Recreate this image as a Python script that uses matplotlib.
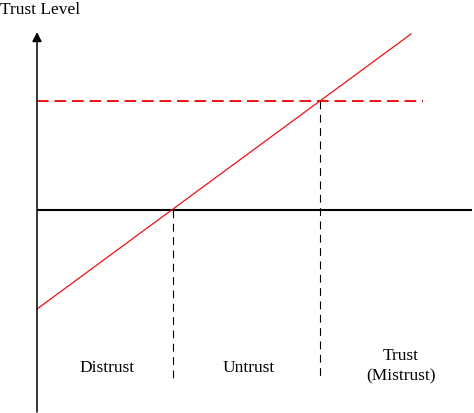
import matplotlib
matplotlib.use("Agg")
import matplotlib.pyplot as plt

# schematic trust model, units ~ pixels, origin where the axes cross
x_left, x_right = 0, 435          # horizontal axis extent
y_bottom, y_top = -202, 178       # vertical axis extent (arrow tip at top)
line_x = [0, 374]                 # red trust line
line_y = [-99, 176]
threshold_y = 109                 # red dashed level
threshold_x_end = 386
bounds_x = [136, 283]             # dashed black boundaries
bounds_top = [0, 109]
bounds_bottom = -171
region_labels = ["Distrust", "Untrust", "Trust\n(Mistrust)"]
region_x = [70, 212, 364]
region_y = [-157, -157, -155]

plt.rcParams['font.family'] = ['Liberation Serif', 'DejaVu Serif']

fig = plt.figure(figsize=(4.74, 4.14), dpi=100)
ax = fig.add_axes([0, 0, 1, 1])
ax.set_xlim(-37, 437)
ax.set_ylim(-203, 211)
ax.axis('off')

# axes
ax.plot([x_left, x_right], [0, 0], color='black', lw=1.5, solid_capstyle='butt')
ax.annotate('', xy=(0, y_top), xytext=(0, y_bottom),
            arrowprops=dict(arrowstyle='-|>', color='black', lw=1.1,
                            mutation_scale=14, shrinkA=0, shrinkB=0))
ax.text(-37, 201, "Trust Level", fontsize=12.5, ha='left', va='center')

# trust line and threshold
ax.plot(line_x, line_y, color='#ee1111', lw=0.9)
ax.plot([0, threshold_x_end], [threshold_y, threshold_y], color='#ee1111',
        lw=1.4, dashes=(6, 3))

# region boundaries
for bx, bt in zip(bounds_x, bounds_top):
    ax.plot([bx, bx], [bt, bounds_bottom], color='black', lw=0.8, dashes=(7, 5))

for lab, rx, ry in zip(region_labels, region_x, region_y):
    ax.text(rx, ry, lab, fontsize=12.5, ha='center', va='center',
            linespacing=1.35)

fig.savefig("out.png", dpi=100)
